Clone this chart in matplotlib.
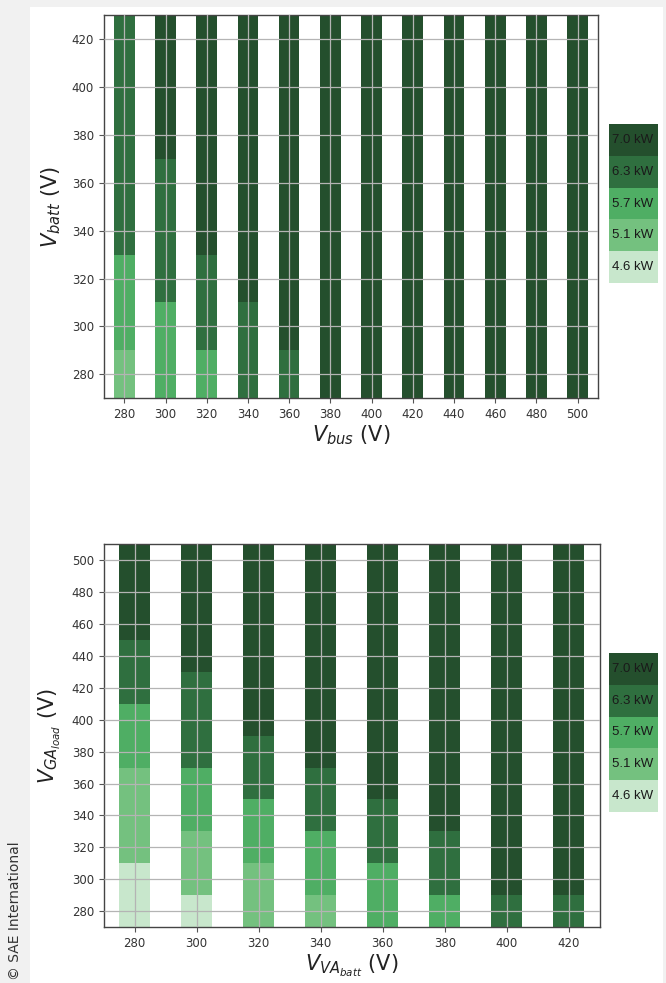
import matplotlib.pyplot as plt
from matplotlib.patches import Rectangle
import numpy as np

# power levels and their fill colours (light -> dark)
levels = [4.6, 5.1, 5.7, 6.3, 7.0]
level_colors = ['#c8e7cc', '#74c17f', '#4fae64', '#2f6f3f', '#244f2d']

# top plot: columns are V_bus, cells up each column are V_batt = 280..420
vbus = [280, 300, 320, 340, 360, 380, 400, 420, 440, 460, 480, 500]
vbatt = [280, 300, 320, 340, 360, 380, 400, 420]
p_top = [
    [5.1, 5.7, 5.7, 6.3, 6.3, 6.3, 6.3, 6.3],
    [5.7, 5.7, 6.3, 6.3, 6.3, 7.0, 7.0, 7.0],
    [5.7, 6.3, 6.3, 7.0, 7.0, 7.0, 7.0, 7.0],
    [6.3, 6.3, 7.0, 7.0, 7.0, 7.0, 7.0, 7.0],
    [6.3, 7.0, 7.0, 7.0, 7.0, 7.0, 7.0, 7.0],
    [7.0, 7.0, 7.0, 7.0, 7.0, 7.0, 7.0, 7.0],
    [7.0, 7.0, 7.0, 7.0, 7.0, 7.0, 7.0, 7.0],
    [7.0, 7.0, 7.0, 7.0, 7.0, 7.0, 7.0, 7.0],
    [7.0, 7.0, 7.0, 7.0, 7.0, 7.0, 7.0, 7.0],
    [7.0, 7.0, 7.0, 7.0, 7.0, 7.0, 7.0, 7.0],
    [7.0, 7.0, 7.0, 7.0, 7.0, 7.0, 7.0, 7.0],
    [7.0, 7.0, 7.0, 7.0, 7.0, 7.0, 7.0, 7.0],
]

# bottom plot: columns are V_VA_batt, cells are V_GA_load = 280..500
vva = [280, 300, 320, 340, 360, 380, 400, 420]
vga = [280, 300, 320, 340, 360, 380, 400, 420, 440, 460, 480, 500]
p_bot = [
    [4.6, 4.6, 5.1, 5.1, 5.1, 5.7, 5.7, 6.3, 6.3, 7.0, 7.0, 7.0],
    [4.6, 5.1, 5.1, 5.7, 5.7, 6.3, 6.3, 6.3, 7.0, 7.0, 7.0, 7.0],
    [5.1, 5.1, 5.7, 5.7, 6.3, 6.3, 7.0, 7.0, 7.0, 7.0, 7.0, 7.0],
    [5.1, 5.7, 5.7, 6.3, 6.3, 7.0, 7.0, 7.0, 7.0, 7.0, 7.0, 7.0],
    [5.7, 5.7, 6.3, 6.3, 7.0, 7.0, 7.0, 7.0, 7.0, 7.0, 7.0, 7.0],
    [5.7, 6.3, 6.3, 7.0, 7.0, 7.0, 7.0, 7.0, 7.0, 7.0, 7.0, 7.0],
    [6.3, 7.0, 7.0, 7.0, 7.0, 7.0, 7.0, 7.0, 7.0, 7.0, 7.0, 7.0],
    [6.3, 7.0, 7.0, 7.0, 7.0, 7.0, 7.0, 7.0, 7.0, 7.0, 7.0, 7.0],
]

step = 20
barw = 10


def cell_color(p):
    return level_colors[levels.index(p)]


def draw_map(ax, xs, ys, power, xlabel, ylabel):
    for x, col in zip(xs, power):
        ax.bar([x] * len(ys), [step] * len(ys), width=barw,
               bottom=np.array(ys) - step / 2,
               color=[cell_color(p) for p in col], linewidth=0, zorder=1)
    ax.set_xticks(xs)
    ax.set_yticks(ys)
    ax.set_xlim(xs[0] - barw, xs[-1] + barw)
    ax.set_ylim(ys[0] - step / 2, ys[-1] + step / 2)
    ax.grid(True, color='#b4b4b4', linewidth=0.9, zorder=2)
    ax.set_axisbelow(False)
    ax.tick_params(labelsize=8.5, colors='#555555', labelcolor='#333333', length=3.5)
    for s in ax.spines.values():
        s.set_color('#444444')
        s.set_linewidth(1.0)
    ax.set_xlabel(xlabel, fontsize=15, color='#222222', labelpad=2)
    ax.set_ylabel(ylabel, fontsize=15, color='#222222', labelpad=6)


def draw_key(rect):
    kax = fig.add_axes(rect)
    n = len(levels)
    kax.bar([0] * n, [1] * n, width=1, bottom=np.arange(n),
            color=level_colors, linewidth=0)
    for i, p in enumerate(levels):
        kax.text(-0.44, i + 0.5, '{:.1f} kW'.format(p), ha='left', va='center',
                 fontsize=9.5, family='Liberation Sans', color='#1a1a1a')
    kax.set_xlim(-0.5, 0.5)
    kax.set_ylim(0, n)
    kax.axis('off')


fig = plt.figure(figsize=(6.66, 9.83), dpi=100)
fig.patch.set_facecolor('#f1f1f1')
fig.patches.append(Rectangle((30 / 666, 0), 633 / 666, 1 - 7 / 983,
                             transform=fig.transFigure, facecolor='white',
                             edgecolor='none', zorder=-10))

ax1 = fig.add_axes([0.1557, 0.5948, 0.7426, 0.3900])
draw_map(ax1, vbus, vbatt, p_top, r'$V_{bus}$ (V)', r'$V_{batt}$ (V)')
draw_key([0.9144, 0.7121, 0.0736, 0.1617])

ax2 = fig.add_axes([0.1557, 0.0567, 0.7450, 0.3900])
draw_map(ax2, vva, vga, p_bot, r'$V_{VA_{batt}}$ (V)', r'$V_{GA_{load}}$ (V)')
draw_key([0.9144, 0.1740, 0.0736, 0.1617])

fig.text(15 / 666, 3 / 983, '\u00a9 SAE International', rotation=90,
         ha='center', va='bottom', fontsize=10, color='#333333')

fig.savefig('out.png', dpi=100)
